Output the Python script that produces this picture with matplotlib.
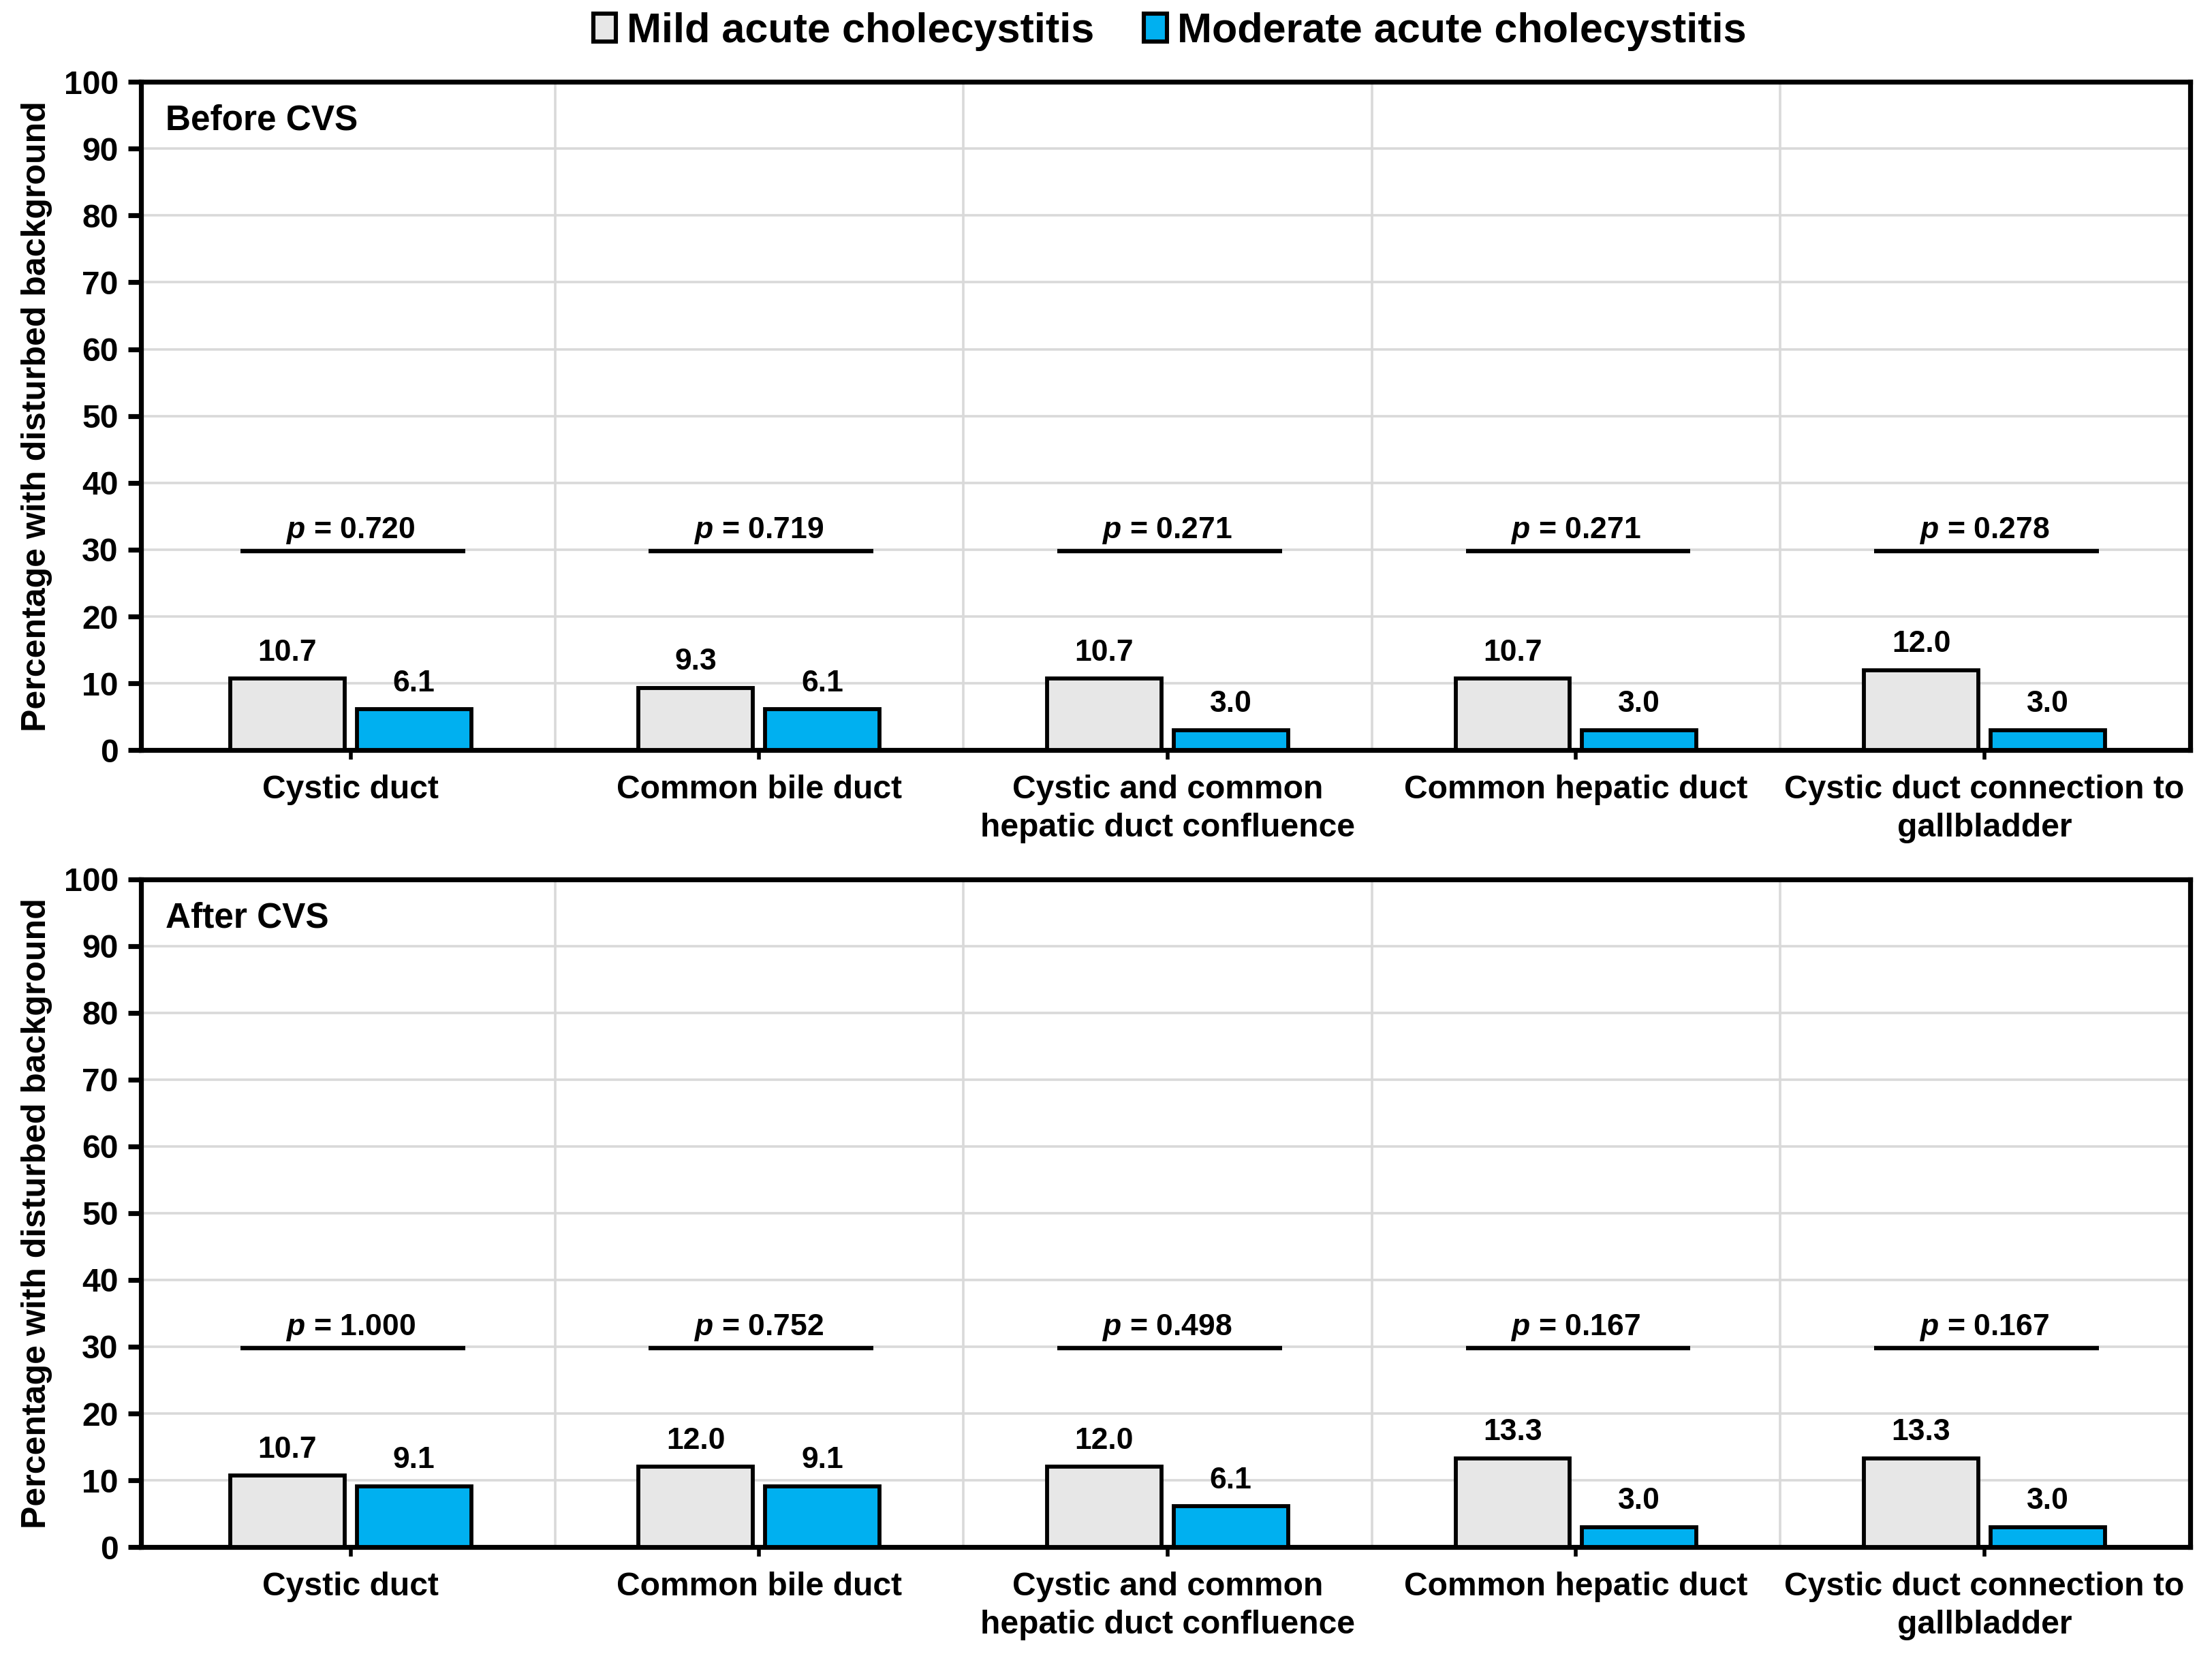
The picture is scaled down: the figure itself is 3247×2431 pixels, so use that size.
import matplotlib
matplotlib.use("Agg")
import matplotlib.pyplot as plt
import numpy as np
from matplotlib.patches import Patch

plt.rcParams['font.family'] = ['Liberation Sans', 'DejaVu Sans']
plt.rcParams['font.weight'] = 'bold'
plt.rcParams['mathtext.fontset'] = 'custom'
plt.rcParams['mathtext.rm'] = 'Liberation Sans:bold'
plt.rcParams['mathtext.bf'] = 'Liberation Sans:bold'
plt.rcParams['mathtext.it'] = 'Liberation Sans:italic:bold'
plt.rcParams['mathtext.bfit'] = 'Liberation Sans:italic:bold'

categories = ["Cystic duct", "Common bile duct",
              "Cystic and common\nhepatic duct confluence",
              "Common hepatic duct",
              "Cystic duct connection to\ngallbladder"]
series_names = ["Mild acute cholecystitis", "Moderate acute cholecystitis"]

before_mild = [10.7, 9.3, 10.7, 10.7, 12.0]
before_moderate = [6.1, 6.1, 3.0, 3.0, 3.0]
before_p = ["0.720", "0.719", "0.271", "0.271", "0.278"]

after_mild = [10.7, 12.0, 12.0, 13.3, 13.3]
after_moderate = [9.1, 9.1, 6.1, 3.0, 3.0]
after_p = ["1.000", "0.752", "0.498", "0.167", "0.167"]

panel_titles = ["Before CVS", "After CVS"]
p_line_level = 30
yticks = list(range(0, 101, 10))

col_mild = "#e7e7e7"
col_mod = "#00b0f0"

fig = plt.figure(figsize=(16.235, 12.155), dpi=200)
AX_L, AX_W = 0.0638, 0.9262
ax_top = fig.add_axes([AX_L, 0.547, AX_W, 0.4036])
ax_bot = fig.add_axes([AX_L, 0.0658, AX_W, 0.4032])

FS = 17.3
x = np.arange(len(categories))
w = 0.28
off = 0.155

def draw(ax, mild, mod, pvals, title):
    ax.set_xlim(-0.513, len(categories) - 0.497)
    ax.set_ylim(0, 100)
    ax.set_yticks(yticks)
    ax.set_xticks(x)
    ax.set_xticks(np.arange(0.5, len(categories) - 0.5, 1), minor=True)
    ax.set_xticklabels(categories, fontsize=FS, fontweight='bold', linespacing=1.3)
    ax.tick_params(axis='y', labelsize=FS, width=2.6, length=7, direction='out', pad=5)
    ax.tick_params(axis='x', which='major', width=2, length=5, direction='out', pad=8)
    ax.tick_params(axis='x', which='minor', length=0)
    ax.grid(axis='y', which='major', color='#d9d9d9', linewidth=1.3, zorder=0)
    ax.grid(axis='x', which='minor', color='#d9d9d9', linewidth=1.3, zorder=0)
    ax.grid(axis='x', which='major', visible=False)
    ax.set_axisbelow(True)
    for s in ax.spines.values():
        s.set_linewidth(2.6)
        s.set_color('black')
    ax.bar(x - off, mild, w, color=col_mild, edgecolor='black', linewidth=2.1, zorder=3)
    ax.bar(x + off, mod, w, color=col_mod, edgecolor='black', linewidth=2.1, zorder=3)
    for xi, v in zip(x - off, mild):
        ax.text(xi, v + 1.8, f"{v:.1f}", ha='center', va='bottom', fontsize=16, fontweight='bold')
    for xi, v in zip(x + off, mod):
        ax.text(xi, v + 1.8, f"{v:.1f}", ha='center', va='bottom', fontsize=16, fontweight='bold')
    for xi, p in zip(x, pvals):
        ax.plot([xi - 0.27, xi + 0.28], [p_line_level - 0.2, p_line_level - 0.2], color='black',
                lw=2.3, zorder=4, solid_capstyle='butt')
        ax.text(xi, p_line_level + 0.6, r"$\mathbfit{p}$ = " + p, ha='center', va='bottom',
                fontsize=16, fontweight='bold')
    ax.text(0.012, 0.967, title, transform=ax.transAxes, ha='left', va='top', fontsize=18.5, fontweight='bold')
    ax.set_ylabel("Percentage with disturbed background", fontsize=18, fontweight='bold', labelpad=6)

draw(ax_top, before_mild, before_moderate, before_p, panel_titles[0])
draw(ax_bot, after_mild, after_moderate, after_p, panel_titles[1])

handles = [Patch(facecolor=col_mild, edgecolor='black', linewidth=2.2),
           Patch(facecolor=col_mod, edgecolor='black', linewidth=2.2)]
fig.legend(handles, series_names, loc='center', bbox_to_anchor=(AX_L + AX_W / 2 + 0.002, 0.981), ncol=2,
           frameon=False, handlelength=0.55, handleheight=0.65,
           handletextpad=0.25, columnspacing=1.2, borderpad=0.1,
           prop={'weight': 'bold', 'size': 22})

fig.savefig("out.png", dpi=200)
